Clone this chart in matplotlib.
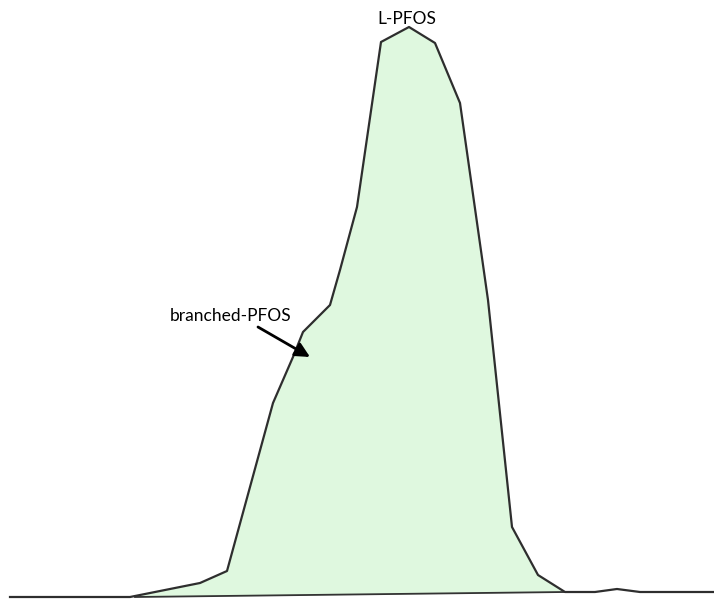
import numpy as np
import matplotlib.pyplot as plt

plt.rcParams['font.family'] = ['Lato', 'DejaVu Sans']

# retention time (arbitrary units) and signal
time = [10, 130, 200, 227, 273, 293, 303, 330, 340, 357, 381,
        409, 435, 460, 488, 512, 538, 565, 595, 617, 640, 714]
signal = [0, 0, 14, 26, 194, 240, 265, 292, 327, 390, 555,
          570, 554, 494, 297, 70, 22, 5, 5, 8, 5, 5]

# integration baseline under the peak
base_time = [135, 565]
base_signal = [0, 5]

peak_label = 'L-PFOS'
shoulder_label = 'branched-PFOS'

time = np.array(time)
signal = np.array(signal)

fig = plt.figure(figsize=(7.14, 5.99), dpi=100)
ax = fig.add_axes([0, 0, 1, 1])

mask = (time >= base_time[0]) & (time <= base_time[1])
t_fill = np.concatenate([[base_time[0]], time[mask], [base_time[1]]])
s_fill = np.interp(t_fill, time, signal)
b_fill = np.interp(t_fill, base_time, base_signal)
ax.fill_between(t_fill, s_fill, b_fill, color='#dff8df', lw=0)

ax.plot(base_time, base_signal, color='#333333', lw=1.3)
ax.plot(time, signal, color='#2e2e2e', lw=1.6, solid_joinstyle='round')

ax.text(407, 578, peak_label, ha='center', va='center', fontsize=12.5, color='black')
ax.text(231, 281, shoulder_label, ha='center', va='center', fontsize=12.5, color='black')
ax.annotate('', xy=(310, 240), xytext=(258, 270),
            arrowprops=dict(arrowstyle='-|>', color='black', lw=2,
                            mutation_scale=22, shrinkA=0, shrinkB=0))

ax.set_xlim(0, 714)
ax.set_ylim(-2, 597)
ax.axis('off')

fig.savefig('out.png', dpi=100)
